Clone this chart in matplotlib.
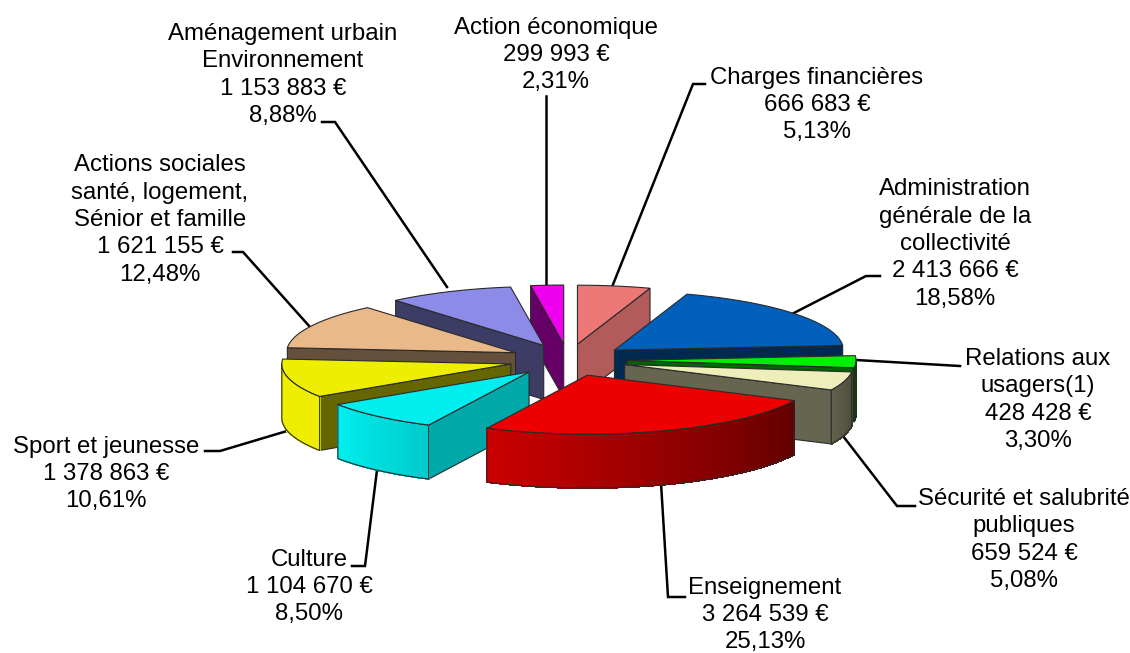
import matplotlib
matplotlib.use('Agg')
import matplotlib.pyplot as plt
import numpy as np

plt.rcParams['font.family'] = ['Liberation Sans', 'DejaVu Sans']

names = ['Charges financières', 'Administration\ngénérale de la\ncollectivité',
         'Relations aux\nusagers(1)', 'Sécurité et salubrité\npubliques', 'Enseignement',
         'Culture', 'Sport et jeunesse', 'Actions sociales\nsanté, logement,\nSénior et famille',
         'Aménagement urbain\nEnvironnement', 'Action économique']
amounts = [666683, 2413666, 428428, 659524, 3264539, 1104670, 1378863, 1621155, 1153883, 299993]
percents = [5.13, 18.58, 3.30, 5.08, 25.13, 8.50, 10.61, 12.48, 8.88, 2.31]

colors = ['#ee7878', '#0060bb', '#00ee00', '#eeeebb', '#ee0000',
          '#00eeee', '#eeee00', '#eab98a', '#8c8ce8', '#ee00ee']
side_shade = [0.75, 0.43, 0.43, 0.43, 0.43, 0.71, 0.43, 0.43, 0.43, 0.43]
draw_order = [9, 0, 8, 7, 6, 5, 1, 2, 3, 4]

# position du texte (centre x, centre y) et trait de rappel
label_pos = [(817, 105), (955, 244), (1038, 400), (1024, 540), (765, 615),
             (309, 587), (106, 474), (160, 220), (283, 75), (556, 55)]
leaders = [[(705, 84), (693, 84), (612, 287)],
           [(880, 276), (866, 276), (790, 315)],
           [(960, 366), (856, 360)],
           [(915, 506), (897, 506), (843, 436)],
           [(685, 597), (668, 597), (661, 483)],
           [(352, 566), (365, 566), (377, 470)],
           [(205, 451), (220, 451), (287, 431)],
           [(233, 252), (243, 252), (310, 327)],
           [(322, 122), (335, 122), (447, 287)],
           [(546, 96), (546, 285)]]

cx, cy = 568, 360
rx, ry = 229, 59
explode_x, explode_y = 59, 16
depth = 54
edge = '#2a2a2a'


def shade(col, k):
    rgb = np.array(matplotlib.colors.to_rgb(col))
    return tuple(np.clip(rgb * k, 0, 1))


def arc_shade(deg):
    # le devant est plus sombre vers la droite
    return min(1.0, 0.4 + (deg - 115) / 121 * 0.6)


fig = plt.figure(figsize=(11.3, 6.53), dpi=100)
ax = fig.add_axes([0, 0, 1, 1])
ax.set_xlim(0, 1130)
ax.set_ylim(653, 0)
ax.axis('off')

for pts in leaders:
    ax.plot([p[0] for p in pts], [p[1] for p in pts], color='black', lw=1.8,
            zorder=1, solid_joinstyle='miter')

edges = np.concatenate([[0], np.cumsum(percents)]) / sum(percents) * 360
z = 2
for i in draw_order:
    a1, a2 = edges[i], edges[i + 1]
    mid = np.radians((a1 + a2) / 2)
    ax0 = cx + explode_x * np.sin(mid)
    ay0 = cy - explode_y * np.cos(mid)
    th = np.radians(np.linspace(a1, a2, 80))
    xs = ax0 + rx * np.sin(th)
    ys = ay0 - ry * np.cos(th)
    side = shade(colors[i], side_shade[i])

    # faces radiales visibles
    for deg, vis in ((a1, np.sin(np.radians(a1)) < -1e-6), (a2, np.sin(np.radians(a2)) > 1e-6)):
        if vis:
            ex = ax0 + rx * np.sin(np.radians(deg))
            ey = ay0 - ry * np.cos(np.radians(deg))
            ax.fill([ax0, ex, ex, ax0], [ay0, ey, ey + depth, ay0 + depth],
                    fc=side, ec=edge, lw=0.8, zorder=z)
            z += 1

    # bord extérieur, seulement la partie avant
    lo, hi = max(a1, 90), min(a2, 270)
    if hi > lo:
        deg = np.linspace(lo, hi, 60)
        t = np.radians(deg)
        fx = ax0 + rx * np.sin(t)
        fy = ay0 - ry * np.cos(t)
        # bandes sans anticrénelage pour éviter les coutures
        for j in range(len(deg) - 1):
            c = shade(colors[i], arc_shade((deg[j] + deg[j + 1]) / 2))
            ax.fill([fx[j], fx[j + 1], fx[j + 1], fx[j]],
                    [fy[j], fy[j + 1], fy[j + 1] + depth, fy[j] + depth],
                    fc=c, ec=c, lw=0.6, antialiased=False, zorder=z)
        z += 1
        ax.plot(np.r_[fx[0], fx, fx[-1]],
                np.r_[fy[0], fy + depth, fy[-1]], color=edge, lw=0.8, zorder=z)
        ax.plot(fx, fy, color=edge, lw=0.8, zorder=z)
        z += 1

    ax.fill(np.r_[ax0, xs], np.r_[ay0, ys], fc=colors[i], ec=edge, lw=0.8, zorder=z)
    z += 1

for i, name in enumerate(names):
    amount = f'{amounts[i]:,}'.replace(',', ' ') + ' €'
    pct = f'{percents[i]:.2f}'.replace('.', ',') + '%'
    ax.text(label_pos[i][0], label_pos[i][1], f'{name}\n{amount}\n{pct}', ha='center', va='center',
            fontsize=17.3, linespacing=1.31, color='black', zorder=50)

fig.savefig('out.png', dpi=100)
